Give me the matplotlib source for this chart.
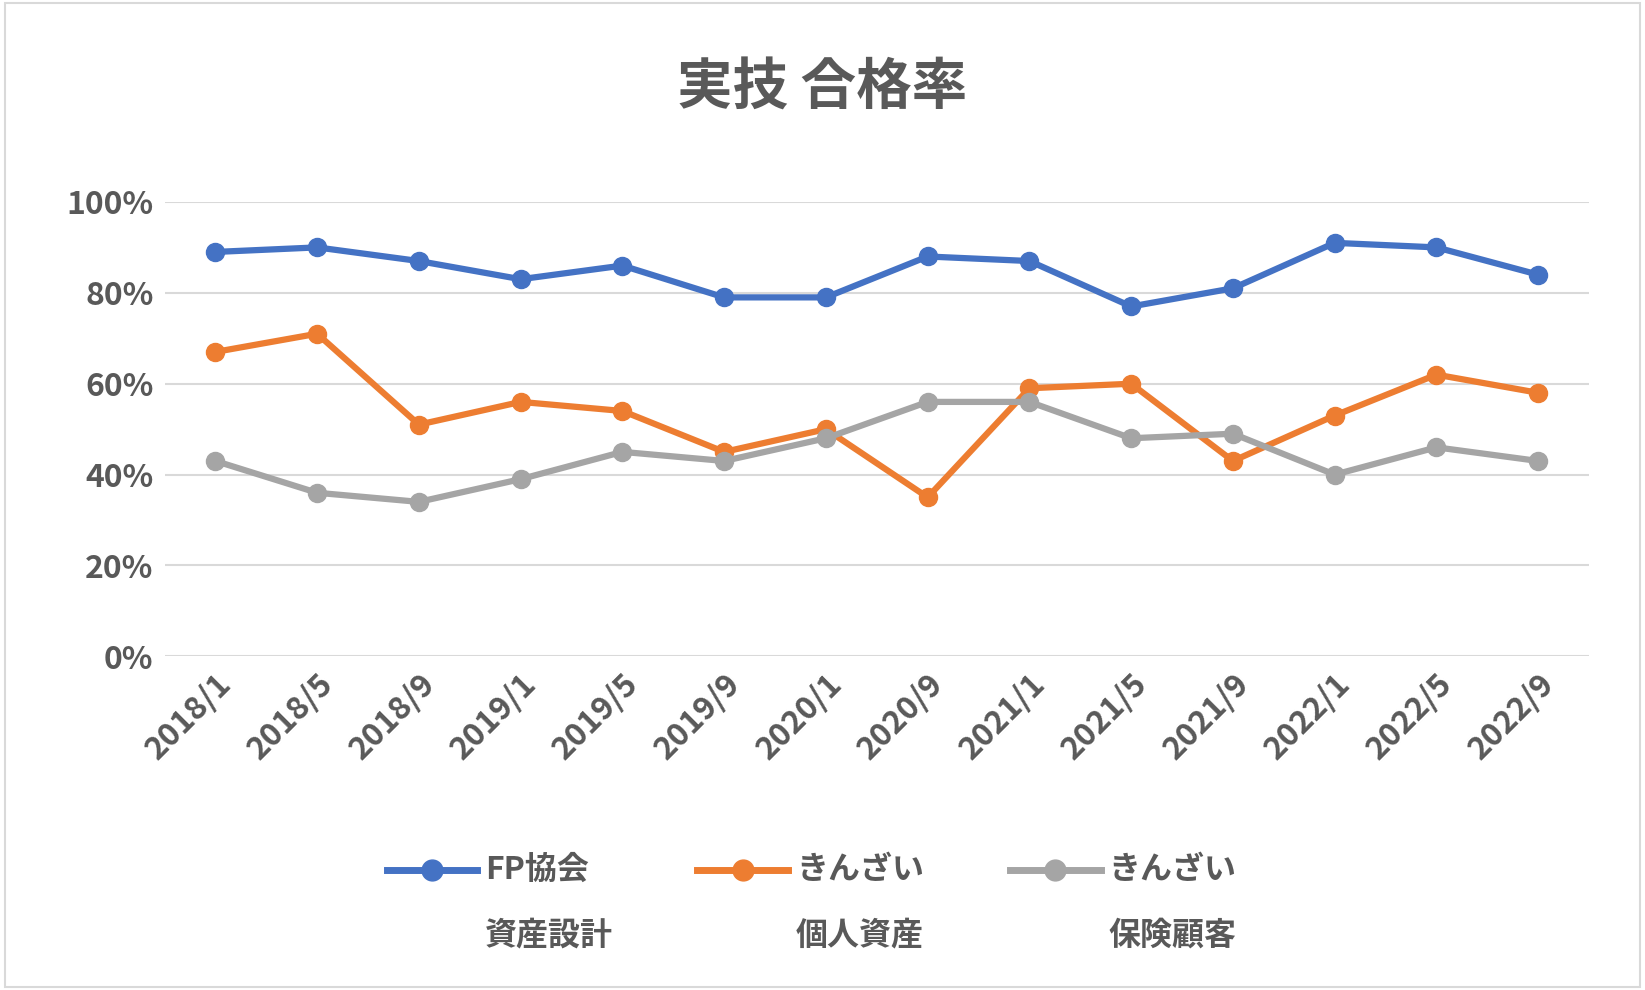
import matplotlib
matplotlib.use("Agg")
import matplotlib.pyplot as plt
from matplotlib.patches import Rectangle
from matplotlib.lines import Line2D

plt.rcParams["font.family"] = "Noto Sans CJK JP"

categories = ["2018/1","2018/5","2018/9","2019/1","2019/5","2019/9","2020/1",
              "2020/9","2021/1","2021/5","2021/9","2022/1","2022/5","2022/9"]
fp = [89,90,87,83,86,79,79,88,87,77,81,91,90,84]
kinzai_kojin = [67,71,51,56,54,45,50,35,59,60,43,53,62,58]
kinzai_hoken = [43,36,34,39,45,43,48,56,56,48,49,40,46,43]
series_names = ["FP協会\n資産設計", "きんざい\n個人資産", "きんざい\n保険顧客"]
colors = ["#4472C4", "#ED7D31", "#A5A5A5"]
gray = "#595959"

fig = plt.figure(figsize=(16.45, 9.9), dpi=100)
fig.patches.append(Rectangle((0.003, 0.003), 0.994, 0.994, transform=fig.transFigure,
                             fill=False, edgecolor="#D9D9D9", linewidth=1.5))
ax = fig.add_axes([0.1, 0.337, 0.866, 0.459])
x = range(len(categories))
for vals, name, c in zip([fp, kinzai_kojin, kinzai_hoken], series_names, colors):
    ax.plot(x, vals, color=c, lw=4.5, marker="o", ms=13, label=name)

ax.set_ylim(0, 100)
ax.set_xlim(-0.5, len(categories) - 0.5)
ax.set_yticks(range(0, 101, 20))
ax.set_yticklabels([f"{v}%" for v in range(0, 101, 20)])
ax.set_xticks(list(x))
ax.set_xticklabels(categories, rotation=45, ha="right", rotation_mode="anchor")
ax.grid(axis="y", color="#D9D9D9", lw=1.5)
ax.set_axisbelow(True)
for s in ax.spines.values():
    s.set_visible(False)
ax.tick_params(length=0, labelsize=23, labelcolor=gray, pad=8)
for t in ax.get_xticklabels() + ax.get_yticklabels():
    t.set_fontweight("bold")

fig.text(0.5, 0.91, "実技 合格率", ha="center", va="center", fontsize=40,
         fontweight="bold", color=gray)

# legend (manual, marker aligned with first line of label)
leg_x = [0.235, 0.424, 0.614]
for lx, name, c in zip(leg_x, series_names, colors):
    fig.add_artist(Line2D([lx, lx + 0.055], [0.121, 0.121], transform=fig.transFigure,
                          color=c, lw=5))
    fig.add_artist(Line2D([lx + 0.0275], [0.121], transform=fig.transFigure,
                          color=c, marker="o", ms=15))
    l1, l2 = name.split("\n")
    fig.text(lx + 0.06, 0.121, l1, ha="left", va="center", fontsize=23,
             fontweight="bold", color=gray)
    fig.text(lx + 0.06, 0.055, l2, ha="left", va="center", fontsize=23,
             fontweight="bold", color=gray)
fig.savefig("out.png", dpi=100)
